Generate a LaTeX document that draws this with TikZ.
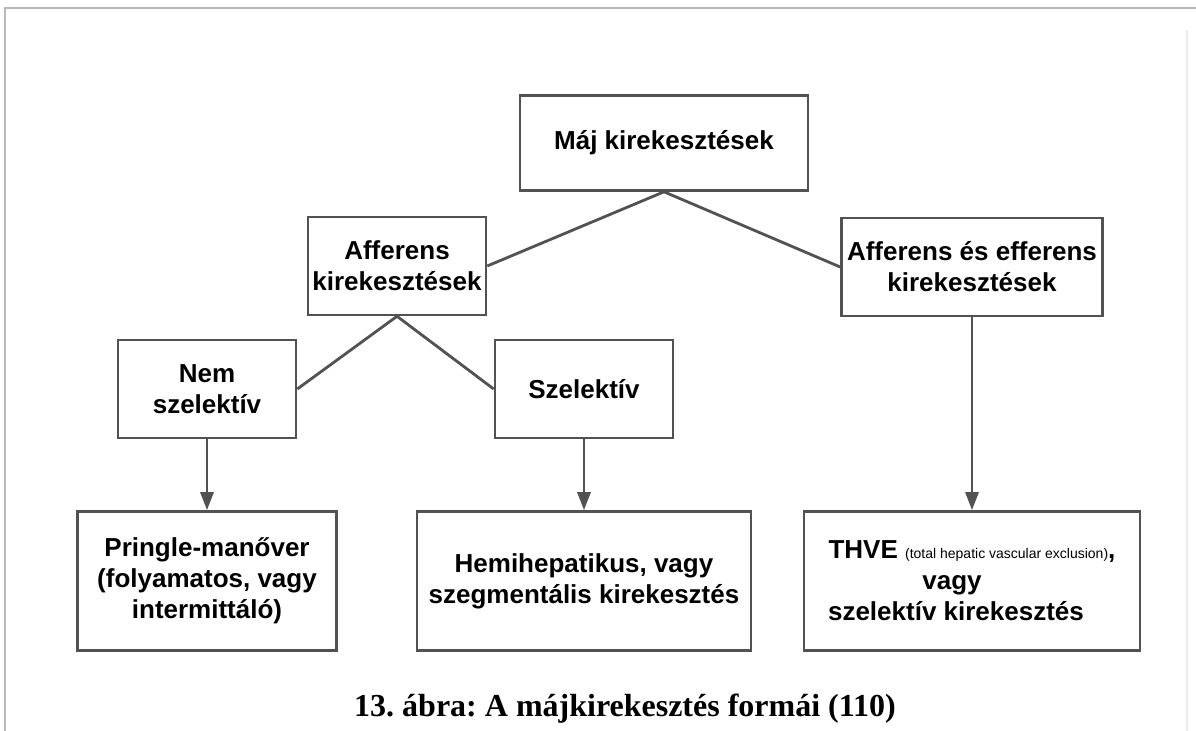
\documentclass[tikz,border=0pt]{standalone}
\usepackage{fontspec}
\setmainfont{Liberation Sans}
\newfontfamily\captionfont{Liberation Serif}
\frenchspacing
\usetikzlibrary{arrows.meta}
\colorlet{line colour}{black!68}
\colorlet{frame colour}{black!28}
\tikzset{
    % Lines first
    link/.style={draw, color=line colour, line width=1.4pt},
    flow/.style={link, -{Triangle[width=6.5pt, length=9pt]}},
    frame line/.style={draw=frame colour, line width=1pt},
%
    % Then the boxes, centre aligned text
    every node/.style={align=center},
    box/.style={
        draw=line colour, rectangle, line width=1.3pt, fill=white,
        inner sep=2pt, font=\fontsize{13}{15.5}\selectfont\bfseries,
        minimum width=89pt, minimum height=49pt},
    wide box/.style={box, minimum width=#1, minimum height=69.5pt},
}

\begin{document}
\begin{tikzpicture}[x=0.5pt, y=-0.5pt]
\useasboundingbox (0,0) rectangle (1196,731);

% page frame
\draw [frame line] (5,731) -- (5,8) -- (1196,8);
\draw [frame line, draw=black!8] (1187,30) -- (1187,731);

\path
    (664,143) node [box, minimum width=144pt, minimum height=47.5pt] (maj) {Máj kirekesztések}
    (397,266) node [box] (aff) {Afferens\\kirekesztések}
    (972,267) node [box, minimum width=130.5pt] (affeff) {Afferens és efferens\\kirekesztések}
    (207,389) node [box] (nem) {Nem\\szelektív}
    (584,389) node [box] (szel) {Szelektív}
    (207,581) node [wide box=129.5pt] (pringle) {Pringle-manőver\\(folyamatos, vagy\\intermittáló)}
    (584,581) node [wide box=167pt] (hemi) {Hemihepatikus, vagy\\szegmentális kirekesztés}
    (972,581) node [wide box=168pt] (thve) {THVE {\mdseries\fontsize{7}{8}\selectfont (total hepatic vascular exclusion)},\\\mbox{vagy\hspace{20pt}}\\\mbox{szelektív kirekesztés\hspace{16pt}}}
    (625,717) node [anchor=base, font=\captionfont\fontsize{16}{19}\selectfont\bfseries] (caption) {13. ábra: A májkirekesztés formái (110)};

\draw [link] (maj.south) -- (aff.east);
\draw [link] (maj.south) -- (affeff.west);
\draw [link] (aff.south) -- (nem.east);
\draw [link] (aff.south) -- (szel.west);
\draw [flow] (nem) -- (pringle);
\draw [flow] (szel) -- (hemi);
\draw [flow] (affeff) -- (thve);

\end{tikzpicture}
\end{document}
